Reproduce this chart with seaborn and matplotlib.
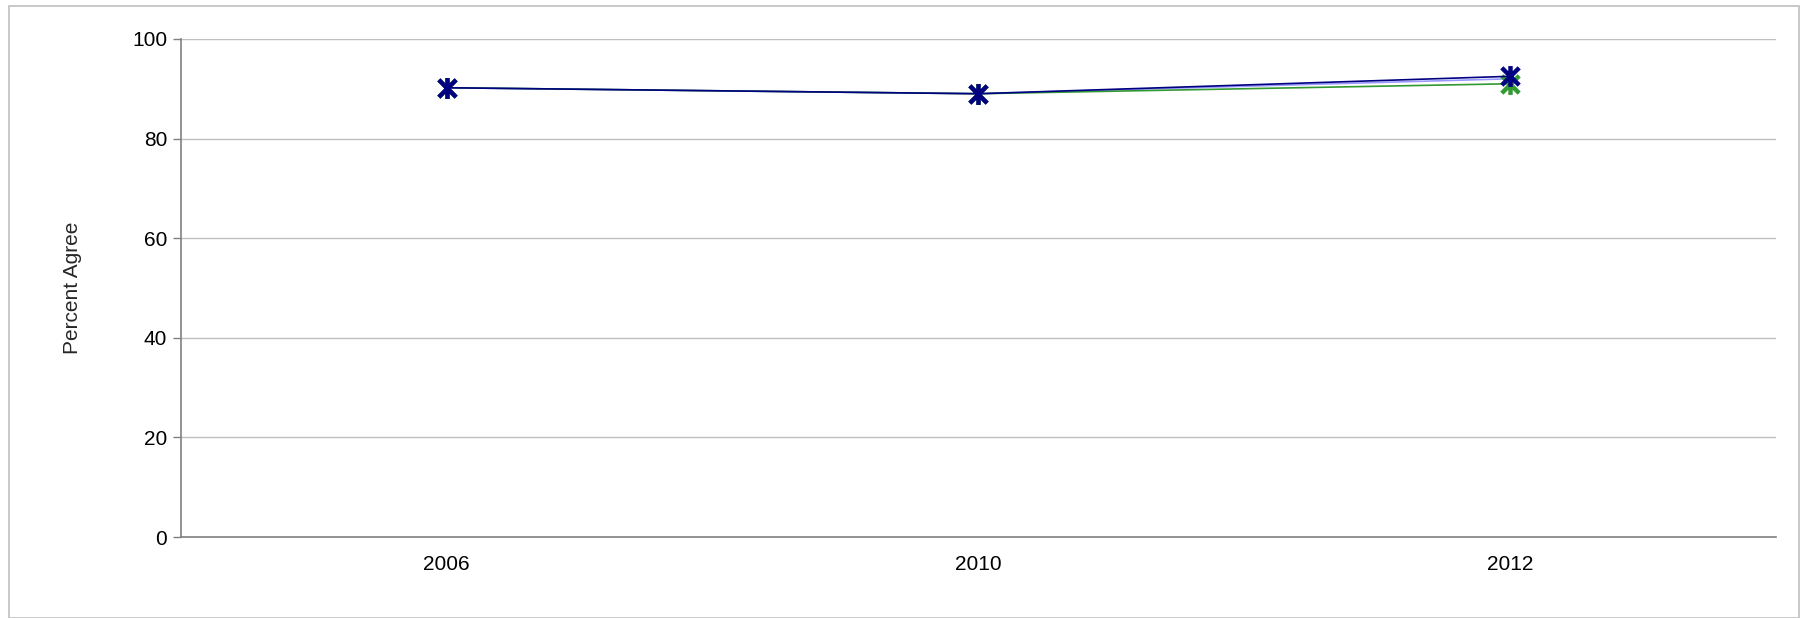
import pandas as pd
import numpy as np
import matplotlib
matplotlib.use("Agg")
import matplotlib.pyplot as plt
import seaborn as sns
from matplotlib.patches import Rectangle
from matplotlib.path import Path

# data
years = ["2006", "2010", "2012"]
series_a = [90.2, 89.0, 92.0]   # lavender
series_b = [90.2, 89.0, 91.0]   # green
series_c = [90.2, 89.0, 92.5]   # dark blue
series_names = ["A", "B", "C"]
series_colors = {"A": "#9999FF", "B": "#339933", "C": "#000080"}

df = pd.concat([
    pd.DataFrame({"Year": years, "Value": vals, "Series": name})
    for name, vals in zip(series_names, [series_a, series_b, series_c])
])

# excel-style asterisk: an X with a vertical bar through it
star = Path([(-1, -1), (1, 1), (-1, 1), (1, -1), (0, -1.2), (0, 1.2)],
            [Path.MOVETO, Path.LINETO, Path.MOVETO, Path.LINETO, Path.MOVETO, Path.LINETO])

sns.set_theme(style="white")
plt.rcParams['font.family'] = ['Liberation Sans', 'DejaVu Sans']

fig = plt.figure(figsize=(18.12, 6.18), dpi=100)
ax = fig.add_axes([0.0999, 0.131, 0.8801, 0.806])

# outer frame of the chart
fig.patches.append(Rectangle((0.005, 0.0), 0.988, 0.99, transform=fig.transFigure,
                             fill=False, edgecolor="#C0C0C0", linewidth=1.2))

sns.lineplot(data=df, x="Year", y="Value", hue="Series", palette=series_colors,
             hue_order=series_names, marker=star, markersize=15,
             markeredgewidth=3.2, linewidth=1.2, legend=False, ax=ax, sort=False)
for line, name in zip(ax.lines, series_names):
    line.set_markeredgecolor(series_colors[name])
ax.lines[0].set_marker("None")

ax.set_ylim(0, 100)
ax.set_yticks(np.arange(0, 101, 20))
ax.set_xlim(-0.5, 2.5)
ax.set_xticks(range(len(years)))
ax.set_xticklabels(years)
ax.set_xticks([-0.5, 0.5, 1.5, 2.5], minor=True)
ax.tick_params(axis="x", which="major", length=0, pad=13, labelsize=15, labelcolor="#000000")
ax.tick_params(axis="x", which="minor", length=6, width=1, color="#808080", direction="out")
ax.tick_params(axis="y", length=6, width=1, color="#808080", direction="out",
               pad=4, labelsize=15, labelcolor="#000000", left=True)

ax.grid(axis="y", color="#C0C0C0", linewidth=1)
ax.set_axisbelow(True)
for side in ["top", "right"]:
    ax.spines[side].set_visible(False)
for side in ["left", "bottom"]:
    ax.spines[side].set_color("#808080")
    ax.spines[side].set_linewidth(1.2)

ax.set_xlabel("")
ax.set_ylabel("Percent Agree", fontsize=15, labelpad=36)

fig.savefig("out.png", dpi=100)
